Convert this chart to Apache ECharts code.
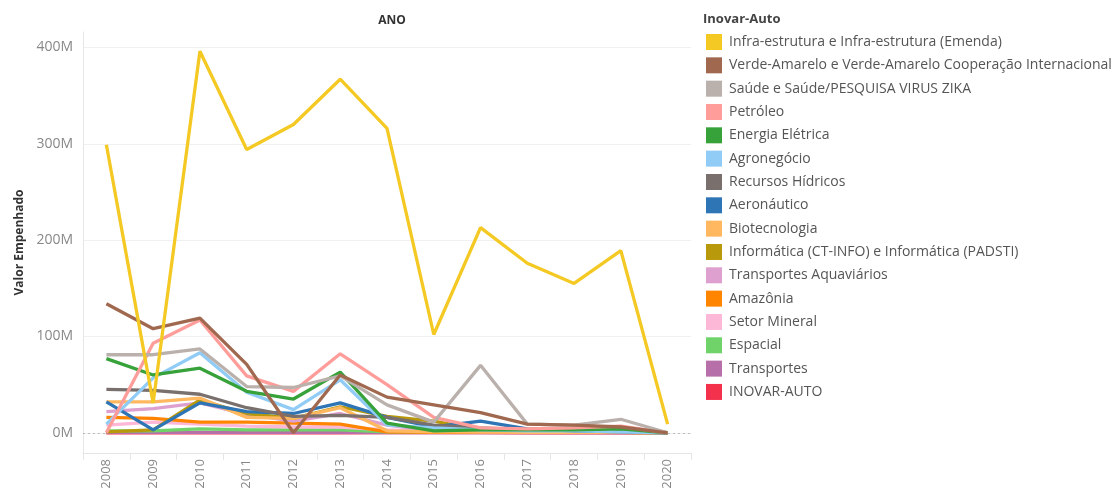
<!DOCTYPE html>
<html>
<head>
<meta charset="utf-8">
<script src="https://cdn.jsdelivr.net/npm/echarts@6/dist/echarts.min.js"></script>
<style>
  html, body { margin: 0; padding: 0; background: #fff; }
  #chart { width: 1114px; height: 492px; }
</style>
</head>
<body>
<div id="chart"></div>
<script>
  // anos (eixo x)
  var anos = ['2008','2009','2010','2011','2012','2013','2014','2015','2016','2017','2018','2019','2020'];

  // valores em milhões
  var infra       = [299, 31, 396, 294, 320, 367, 316, 102, 213, 176, 155, 189, 9];
  var verde       = [134, 108, 119, 71, 0, 60, 37, 29, 21, 9, 8, 6, 0];
  var saude       = [81, 81, 87, 48, 47, 59, 29, 11, 70, 9, 8, 14, 0];
  var petroleo    = [0, 93, 117, 59, 43, 82, 50, 16, 5, 4, 5, 7, 0];
  var energia     = [77, 60, 67, 43, 35, 63, 10, 2, 3, 3, 3, 4, 0];
  var agro        = [9, 57, 83, 42, 24, 55, 8, 5, 3, 2, 2, 1, 0];
  var recursos    = [45, 44, 40, 26, 17, 18, 16, 8, 5, 3, 4, 3, 0];
  var aero        = [32, 3, 31, 22, 20, 31, 16, 6, 12, 4, 2, 1, 0];
  var bio         = [32, 32, 36, 16, 15, 26, 2, 1, 1, 0.5, 0.5, 0.5, 0];
  var info        = [1, 3, 34, 20, 15, 27, 17, 12, 3, 1, 1, 1, 0];
  var aquav       = [22, 25, 31, 19, 12, 20, 8, 2, 1, 1, 1, 1, 0];
  var amazonia    = [16, 15, 11, 11, 10, 9, 1, 0.5, 0.5, 0.5, 0.5, 0.5, 0];
  var mineral     = [8, 11, 9, 7, 6, 6, 3, 1, 1, 1, 1, 1, 0];
  var espacial    = [2, 2, 4, 3, 3, 3, 1, 0.5, 0.5, 0.5, 0.5, 0.5, 0];
  var transportes = [0.5, 0.5, 0.5, 0.5, 0.5, 0.5, 0.3, 0.3, 0.3, 0.3, 0.3, 0.3, 0];
  var inovar      = [0, 0, 0, 0, 0, 0, 0.2, 0.2, 0.2, 0, 0, 0, 0];

  var nomes = [
    'Infra-estrutura e Infra-estrutura (Emenda)',
    'Verde-Amarelo e Verde-Amarelo Cooperação Internacional',
    'Saúde e Saúde/PESQUISA VIRUS ZIKA',
    'Petróleo',
    'Energia Elétrica',
    'Agronegócio',
    'Recursos Hídricos',
    'Aeronáutico',
    'Biotecnologia',
    'Informática (CT-INFO) e Informática (PADSTI)',
    'Transportes Aquaviários',
    'Amazônia',
    'Setor Mineral',
    'Espacial',
    'Transportes',
    'INOVAR-AUTO'
  ];
  var valores = [infra, verde, saude, petroleo, energia, agro, recursos, aero, bio,
                 info, aquav, amazonia, mineral, espacial, transportes, inovar];
  var cores = ['#F5C924','#A0694F','#BAB0AC','#FF9D9A','#37A23A','#90CCF5','#79706E','#2E75B6',
               '#FFB85F','#B8990B','#DDA0CF','#FF8400','#FDB8D8','#6FD36A','#B66FA8','#F4314D'];

  var fonte = 'Open Sans';

  function drawChart() {
    var chart = echarts.init(document.getElementById('chart'));
    var series = [];
    for (var i = 0; i < nomes.length; i++) {
      series.push({
        name: nomes[i],
        type: 'line',
        data: valores[i],
        showSymbol: false,
        symbol: 'none',
        z: 40 - i,
        lineStyle: { width: 3.3, color: cores[i] },
        itemStyle: { color: cores[i] }
      });
    }
    // linha do zero pontilhada
    series.push({
      type: 'line',
      data: [],
      z: 1,
      markLine: {
        silent: true,
        symbol: 'none',
        label: { show: false },
        lineStyle: { type: [2, 3], color: '#bbbbbb', width: 1 },
        data: [{ yAxis: 0 }]
      }
    });

    chart.setOption({
      animation: false,
      color: cores,
      textStyle: { fontFamily: fonte },
      title: [
        {
          text: 'ANO',
          left: 387,
          top: 10,
          textAlign: 'center',
          textStyle: { fontSize: 12, fontWeight: 'bold', color: '#333', fontFamily: fonte }
        },
        {
          text: 'Inovar-Auto',
          left: 703,
          top: 13,
          padding: 0,
          textStyle: { fontSize: 13, fontWeight: 'bold', color: '#444', fontFamily: fonte }
        }
      ],
      legend: {
        orient: 'vertical',
        left: 706,
        top: 34,
        padding: 0,
        icon: 'rect',
        itemWidth: 16,
        itemHeight: 16,
        itemGap: 7.33,
        data: nomes,
        selectedMode: false,
        textStyle: { fontSize: 14, color: '#555', fontFamily: fonte, lineHeight: 16, padding: [0, 0, 0, 2] }
      },
      grid: { left: 83, right: 423, top: 32, bottom: 39, containLabel: false },
      xAxis: {
        type: 'category',
        data: anos,
        boundaryGap: true,
        axisLine: { show: true, onZero: false, lineStyle: { color: '#e6e6e6' } },
        axisTick: { show: true, length: 7, lineStyle: { color: '#e6e6e6' } },
        axisLabel: { rotate: 90, fontSize: 13, color: '#888', margin: 6, fontFamily: fonte },
        splitLine: { show: false }
      },
      yAxis: {
        type: 'value',
        min: -21,
        max: 416,
        splitNumber: 4,
        name: 'Valor Empenhado',
        nameLocation: 'middle',
        nameGap: 56,
        nameTextStyle: { fontSize: 12, fontWeight: 'bold', color: '#333', fontFamily: fonte },
        axisLine: { show: true, lineStyle: { color: '#e6e6e6' } },
        axisTick: { show: false },
        axisLabel: {
          fontSize: 14,
          color: '#888',
          margin: 10,
          showMinLabel: false,
          showMaxLabel: false,
          fontFamily: fonte,
          formatter: function (v) { return v + 'M'; }
        },
        splitLine: { show: true, showMinLine: false, showMaxLine: false, lineStyle: { color: '#f0f0f0' } }
      },
      series: series
    });
  }

  drawChart();
</script>
</body>
</html>
